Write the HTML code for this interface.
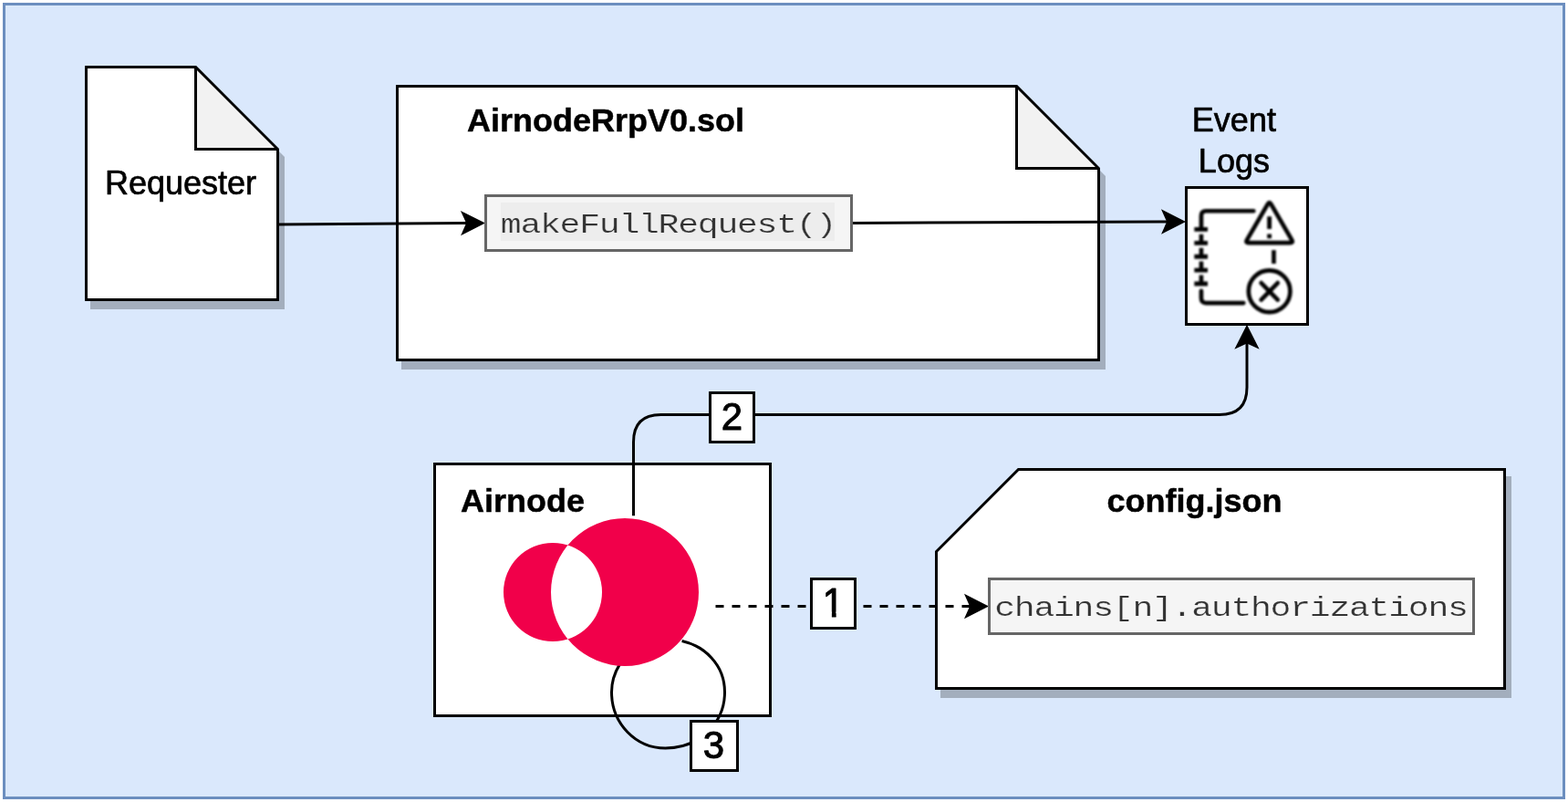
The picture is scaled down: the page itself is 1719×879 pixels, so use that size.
<!DOCTYPE html>
<html lang="en">
<head>
<meta charset="utf-8">
<title>Airnode authorizations flow</title>
<style>
  html, body { margin: 0; padding: 0; background: #ffffff; }
  body { width: 1719px; height: 879px; overflow: hidden; }
  svg { display: block; will-change: transform; }
  .sans { font-family: "Liberation Sans", sans-serif; font-size: 36px; fill: #000; stroke: #000; stroke-width: 0.7px; stroke-linejoin: round; }
  .bold { font-weight: bold; stroke-width: 0.5px; }
  .mono { font-family: "Liberation Mono", monospace; font-size: 36px; fill: #333333; letter-spacing: -1.2226px; stroke-width: 0.3px; stroke-linejoin: round; }
  .num  { font-family: "Liberation Sans", sans-serif; font-size: 42px; fill: #000; stroke: #000; stroke-width: 1px; stroke-linejoin: round; }
  .k { stroke: #000; stroke-width: 3; stroke-miterlimit: 10; }
</style>
</head>
<body>
<svg width="1719" height="879" viewBox="0 0 1719 879">
  <defs>
    <clipPath id="one" clipPathUnits="userSpaceOnUse"><rect x="892" y="638" width="43" height="32.6"/><rect x="911.9" y="670" width="4.7" height="10"/></clipPath>
    <filter id="soft" x="-10%" y="-10%" width="120%" height="120%"><feGaussianBlur stdDeviation="4.8"/></filter>
  </defs>
  <!-- outer frame -->
  <rect x="4.5" y="4.5" width="1710" height="870" fill="#dae8fc" stroke="#6c8ebf" stroke-width="3"/>

  <!-- Requester note -->
  <g transform="translate(6,9)">
    <path d="M94.5 73.5 H214.5 L304.5 163.5 V328.5 H94.5 Z" fill="#a3aebd" stroke="#a3aebd" stroke-width="3" stroke-miterlimit="10"/>
  </g>
  <path d="M94.5 73.5 H214.5 L304.5 163.5 V328.5 H94.5 Z" fill="#fff"/>
  <path d="M214.5 73.5 L304.5 163.5 H214.5 Z" fill="#f2f2f2"/>
  <path class="k" d="M94.5 73.5 H214.5 L304.5 163.5 V328.5 H94.5 Z" fill="none"/>
  <path class="k" d="M214.5 73.5 V163.5 H304.5" fill="none"/>
  <text class="sans" x="115" y="212.6">Requester</text>

  <!-- AirnodeRrpV0.sol note -->
  <g transform="translate(6,9)">
    <path d="M435.5 94.5 H1114.5 L1204.5 184.5 V394.5 H435.5 Z" fill="#a3aebd" stroke="#a3aebd" stroke-width="3" stroke-miterlimit="10"/>
  </g>
  <path d="M435.5 94.5 H1114.5 L1204.5 184.5 V394.5 H435.5 Z" fill="#fff"/>
  <path d="M1114.5 94.5 L1204.5 184.5 H1114.5 Z" fill="#f2f2f2"/>
  <path class="k" d="M435.5 94.5 H1114.5 L1204.5 184.5 V394.5 H435.5 Z" fill="none"/>
  <path class="k" d="M1114.5 94.5 V184.5 H1204.5" fill="none"/>
  <text class="sans bold" transform="translate(512,144.1) scale(1,0.975)">AirnodeRrpV0.sol</text>

  <!-- edge Requester -> makeFullRequest -->
  <path class="k" d="M306 246 L513 244.53" fill="none"/>
  <path d="M532.00 244.39 L505.10 258.28 L511.10 244.54 L504.90 230.89 Z" fill="#000"/>

  <!-- makeFullRequest box -->
  <rect x="532.5" y="214.5" width="401" height="60" fill="#f5f5f5" stroke="#666666" stroke-width="3"/>
  <rect x="549" y="222" width="366" height="42" fill="#ededed"/>
  <text class="mono" transform="translate(548.8,255) scale(1.06,0.83)" style="stroke:#ededed">makeFullRequest()</text>

  <!-- edge makeFullRequest -> Event Logs -->
  <path class="k" d="M935 244.4 L1281 242.97" fill="none"/>
  <path d="M1300.00 242.90 L1273.06 256.71 L1279.10 242.98 L1272.94 229.31 Z" fill="#000"/>

  <!-- Event Logs -->
  <text class="sans" x="1352.9" y="144" text-anchor="middle">Event</text>
  <text class="sans" x="1352.9" y="189" text-anchor="middle">Logs</text>
  <rect class="k" x="1300.5" y="205.5" width="133" height="150" fill="#fff"/>
  <g transform="translate(1300,205) scale(0.17286)" fill="none" stroke="#000" stroke-width="27" stroke-linecap="round" stroke-linejoin="round" filter="url(#soft)">
    <path d="M430 152 H128 Q98 152 98 182 V262"/>
    <path d="M98 658 V705 Q98 735 128 735 H366"/>
    <path d="M54 268 H139 M54 355 H139 M54 441 H139 M54 527 H139 M54 613 H139" stroke-linecap="butt" stroke-width="28"/>
    <path d="M98 299 V355 M98 386 V441 M98 471 V527 M98 558 V613" stroke-linecap="butt" stroke-width="27"/>
    <path d="M519.0 109.0 Q530.0 90.0 541.0 109.0 L672.0 335.0 Q683.0 354.0 661.0 354.0 L399.0 354.0 Q377.0 354.0 388.0 335.0 Z"/>
    <path d="M530 186 V266 M530 298 V326" stroke-linecap="butt" stroke-width="28"/>
    <path d="M558 400 V486" stroke-linecap="butt"/>
    <circle cx="530" cy="661" r="132"/>
    <path d="M478 608 L583 715 M583 608 L478 715"/>
  </g>

  <!-- Airnode box -->
  <rect class="k" x="476.5" y="508.5" width="368" height="276" fill="#fff"/>
  <text class="sans bold" transform="translate(505,560.6) scale(1,0.975)">Airnode</text>

  <!-- config.json card -->
  <g transform="translate(6,9)">
    <path d="M1116.5 514.5 H1649.5 V754.5 H1026.5 V604.5 Z" fill="#a3aebd" stroke="#a3aebd" stroke-width="3" stroke-miterlimit="10"/>
  </g>
  <path class="k" d="M1116.5 514.5 H1649.5 V754.5 H1026.5 V604.5 Z" fill="#fff"/>
  <text class="sans bold" transform="translate(1213.5,560.85) scale(1,0.975)">config.json</text>

  <!-- edge 2: Airnode -> Event Logs -->
  <path class="k" d="M694.5 565.3 V484.5 Q694.5 454.5 724.5 454.5 H1337 Q1367 454.5 1367 424.5 V375" fill="none"/>
  <path d="M1367.00 355.70 L1380.70 382.70 L1367.00 376.60 L1353.30 382.70 Z" fill="#000"/>

  <!-- edge 3: loop -->
  <path class="k" d="M747.6 702.5 C772 708 794.5 728 794.5 758.6 C794.5 793 766 820 729.5 820 C697 820 670.5 793 670.5 758.6 C670.5 747 674 737 679.2 728.4" fill="none"/>

  <!-- Airnode logo -->
  <path d="M604 649 a81 81 0 1 0 162 0 a81 81 0 1 0 -162 0 Z M552 649 a54 54 0 1 0 108 0 a54 54 0 1 0 -108 0 Z" fill="#f1004a" fill-rule="evenodd"/>

  <!-- edge 1: dashed -->
  <path class="k" d="M784.5 664.5 H1065" fill="none" stroke-dasharray="9 9"/>
  <path d="M1084.00 664.50 L1057.00 678.20 L1063.10 664.50 L1057.00 650.80 Z" fill="#000"/>

  <!-- chains box -->
  <rect x="1084.5" y="634.5" width="531" height="60" fill="#f5f5f5" stroke="#666666" stroke-width="3"/>
  <text class="mono" transform="translate(1090.2,675) scale(1.06,0.83)" style="stroke:#f5f5f5">chains[n].authorizations</text>

  <!-- labels -->
  <rect class="k" x="889.5" y="634.5" width="48" height="54" fill="#fff"/>
  <g clip-path="url(#one)"><text class="num" transform="translate(913.5,675.6) scale(1,1.05)" text-anchor="middle">1</text></g>
  <rect class="k" x="778.5" y="430.5" width="48" height="54" fill="#fff"/>
  <text class="num" transform="translate(802.5,470.8) scale(1,1.03)" text-anchor="middle">2</text>
  <rect class="k" x="757.5" y="790.5" width="51" height="54" fill="#fff"/>
  <text class="num" transform="translate(782.5,831.2) scale(1,1.03)" text-anchor="middle">3</text>
</svg>
</body>
</html>
